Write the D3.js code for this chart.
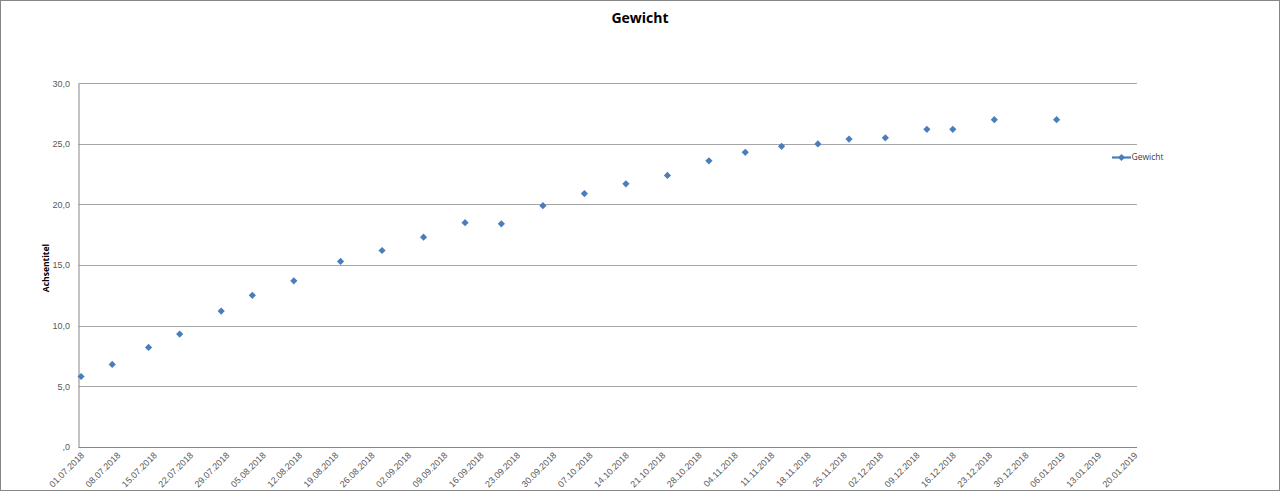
<!DOCTYPE html>
<html>
<head>
<meta charset="utf-8">
<script src="https://cdn.jsdelivr.net/npm/d3@7"></script>
<style>
  body { margin: 0; background: #fff; }
  svg { display: block; font-family: "Open Sans", "Liberation Sans", sans-serif; }
</style>
</head>
<body>
<svg id="chart" width="1280" height="492"></svg>
<script>
// measurement dates (dd.mm.yyyy) and weights
var dates = ["01.07.2018", "07.07.2018", "14.07.2018", "20.07.2018", "28.07.2018",
    "03.08.2018", "11.08.2018", "20.08.2018", "28.08.2018", "05.09.2018",
    "13.09.2018", "20.09.2018", "28.09.2018", "06.10.2018", "14.10.2018",
    "22.10.2018", "30.10.2018", "06.11.2018", "13.11.2018", "20.11.2018",
    "26.11.2018", "03.12.2018", "11.12.2018", "16.12.2018", "24.12.2018",
    "05.01.2019"];
var gewicht = [5.8, 6.8, 8.2, 9.3, 11.2, 12.5, 13.7, 15.3, 16.2, 17.3,
    18.5, 18.4, 19.9, 20.9, 21.7, 22.4, 23.6, 24.3, 24.8, 25.0,
    25.4, 25.5, 26.2, 26.2, 27.0, 27.0];
var xRange = ["01.07.2018", "20.01.2019"];
var yTicks = [0, 5, 10, 15, 20, 25, 30];

var parse = d3.utcParse("%d.%m.%Y");
var fmt = d3.utcFormat("%d.%m.%Y");
// date axis: every day is a slot, marks sit in the middle of their day
var mid = function (d) { return d3.utcHour.offset(d, 12); };
var data = dates.map(function (d, i) { return { date: mid(parse(d)), value: gewicht[i] }; });

var svg = d3.select("#chart");
// plot area (note: "top" is reserved on window, so plot_* names)
var plot_left = 78.5, plot_right = 1137, plot_top = 83.3, plot_bottom = 446.8;

// chart border
svg.append("rect")
    .attr("x", 0.5).attr("y", 0.5)
    .attr("width", 1279).attr("height", 490)
    .attr("fill", "#fff")
    .attr("stroke", "#868686");

var xStart = parse(xRange[0]), xEnd = d3.utcDay.offset(parse(xRange[1]), 1);
var x = d3.scaleUtc()
    .domain([xStart, xEnd])
    .range([plot_left, plot_right]);
var y = d3.scaleLinear()
    .domain([0, 30])
    .range([plot_bottom, plot_top]);

// gridlines
svg.append("g")
    .selectAll("line")
    .data(yTicks)
    .enter().append("line")
    .attr("x1", plot_left).attr("x2", plot_right)
    .attr("y1", function (d) { return Math.round(y(d)) + 0.5; })
    .attr("y2", function (d) { return Math.round(y(d)) + 0.5; })
    .attr("stroke", function (d) { return d === 0 ? "#868686" : "#a6a6a6"; })
    .attr("stroke-width", 1);

// y axis
var yAxis = d3.axisLeft(y)
    .tickValues(yTicks)
    .tickSize(0)
    .tickPadding(8.5)
    .tickFormat(function (d) { return d === 0 ? ",0" : d.toFixed(1).replace(".", ","); });
var gy = svg.append("g")
    .attr("transform", "translate(" + plot_left + ",0)")
    .call(yAxis);
gy.select(".domain").attr("stroke", "#868686");
gy.selectAll("text")
    .attr("fill", "#595959")
    .style("font-size", "9px");

// x axis with rotated labels, one per week
var weekTicks = d3.utcWeek.every(1).range(xStart, xEnd).map(mid);
var xAxis = d3.axisBottom(x)
    .tickValues(weekTicks)
    .tickSize(0)
    .tickFormat(fmt);
var gx = svg.append("g")
    .attr("transform", "translate(0," + plot_bottom + ")")
    .call(xAxis);
gx.select(".domain").remove();
gx.selectAll("text")
    .attr("fill", "#595959")
    .style("font-size", "9px")
    .style("text-anchor", "end")
    .attr("y", 0)
    .attr("dy", "0.35em")
    .attr("transform", "translate(1,7) rotate(-45)");

// axis title
svg.append("text")
    .attr("transform", "translate(49,268) rotate(-90)")
    .attr("text-anchor", "middle")
    .style("font-size", "8.5px")
    .style("font-weight", "bold")
    .attr("fill", "#000")
    .text("Achsentitel");

// title
svg.append("text")
    .attr("x", 640).attr("y", 23)
    .attr("text-anchor", "middle")
    .style("font-size", "14px")
    .style("font-weight", "bold")
    .attr("fill", "#000")
    .text("Gewicht");

var diamond = "M0,-3.6L3.6,0L0,3.6L-3.6,0Z";
var blue = "#4a7ebb";

// markers
svg.append("g")
    .selectAll("path")
    .data(data)
    .enter().append("path")
    .attr("d", diamond)
    .attr("fill", blue)
    .attr("transform", function (d) { return "translate(" + x(d.date) + "," + y(d.value) + ")"; });

// legend
var lg = svg.append("g").attr("transform", "translate(1112,157.5)");
lg.append("line")
    .attr("x1", 0).attr("x2", 19)
    .attr("stroke", blue).attr("stroke-width", 2.2);
lg.append("path")
    .attr("d", diamond)
    .attr("fill", blue)
    .attr("transform", "translate(9.5,0)");
lg.append("text")
    .attr("x", 19.5).attr("dy", "0.35em")
    .style("font-size", "8.5px")
    .attr("fill", "#404040")
    .text("Gewicht");
</script>
</body>
</html>
